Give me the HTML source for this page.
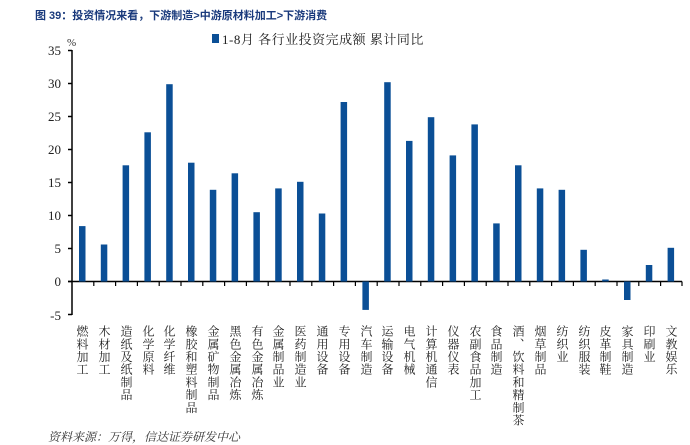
<!DOCTYPE html>
<html><head><meta charset="utf-8"><style>
body{margin:0;background:#fff;width:690px;height:444px;overflow:hidden;position:relative;font-family:"Liberation Serif","Noto Serif CJK SC",serif}
.t{position:absolute;left:35px;top:7px;font-family:"Liberation Sans","Noto Sans CJK SC",sans-serif;font-weight:bold;font-size:11px;color:#1a3a7c}
.src{position:absolute;left:48px;top:428px;font-size:12px;font-style:italic;color:#333;font-family:"Liberation Serif","Noto Serif CJK SC",serif}
.lab{position:absolute;top:325px;writing-mode:vertical-rl;font-size:12px;letter-spacing:0.7px;color:#222;transform:translateX(-50%);line-height:12px;font-family:"Liberation Serif","Noto Serif CJK SC",serif}
</style></head><body>
<div class="t">图 39：投资情况来看，下游制造&gt;中游原材料加工&gt;下游消费</div>
<svg width="690" height="444" style="position:absolute;left:0;top:0" font-family="'Liberation Serif', 'Noto Serif CJK SC', serif">
<text x="67" y="46" font-size="11" fill="#333">%</text>
<g font-size="13" fill="#222" text-anchor="end">
<text x="61" y="55">35</text><text x="61" y="88">30</text><text x="61" y="121">25</text><text x="61" y="154">20</text><text x="61" y="187">15</text><text x="61" y="220">10</text><text x="61" y="253">5</text><text x="61" y="286">0</text><text x="61" y="320">-5</text>
</g>
<g stroke="#000" stroke-width="1.5">
<line x1="72" y1="50" x2="72" y2="315"/>
<line x1="68" y1="50.5" x2="72" y2="50.5"/><line x1="68" y1="83.5" x2="72" y2="83.5"/><line x1="68" y1="116.5" x2="72" y2="116.5"/><line x1="68" y1="149.5" x2="72" y2="149.5"/><line x1="68" y1="182.5" x2="72" y2="182.5"/><line x1="68" y1="215.5" x2="72" y2="215.5"/><line x1="68" y1="248.5" x2="72" y2="248.5"/><line x1="68" y1="281.5" x2="72" y2="281.5"/><line x1="68" y1="314.5" x2="72" y2="314.5"/>
<line x1="68" y1="281.5" x2="682" y2="281.5"/>
</g>
<g fill="#0b4f96">
<rect x="79" y="226.1" width="6.5" height="55.4"/>
<rect x="100.8" y="244.5" width="6.5" height="37"/>
<rect x="122.6" y="165.3" width="6.5" height="116.2"/>
<rect x="144.4" y="132.3" width="6.5" height="149.2"/>
<rect x="166.2" y="84.2" width="6.5" height="197.3"/>
<rect x="188" y="162.7" width="6.5" height="118.8"/>
<rect x="209.8" y="189.8" width="6.5" height="91.7"/>
<rect x="231.6" y="173.3" width="6.5" height="108.2"/>
<rect x="253.4" y="212.2" width="6.5" height="69.3"/>
<rect x="275.2" y="188.4" width="6.5" height="93.1"/>
<rect x="297" y="181.8" width="6.5" height="99.7"/>
<rect x="318.8" y="213.5" width="6.5" height="68"/>
<rect x="340.6" y="102" width="6.5" height="179.5"/>
<rect x="362.4" y="281.5" width="6.5" height="28.4"/>
<rect x="384.2" y="82.2" width="6.5" height="199.3"/>
<rect x="406" y="140.9" width="6.5" height="140.6"/>
<rect x="427.8" y="117.2" width="6.5" height="164.3"/>
<rect x="449.6" y="155.4" width="6.5" height="126.1"/>
<rect x="471.4" y="124.4" width="6.5" height="157.1"/>
<rect x="493.2" y="223.4" width="6.5" height="58.1"/>
<rect x="515" y="165.3" width="6.5" height="116.2"/>
<rect x="536.8" y="188.4" width="6.5" height="93.1"/>
<rect x="558.6" y="189.8" width="6.5" height="91.7"/>
<rect x="580.4" y="249.8" width="6.5" height="31.7"/>
<rect x="602.2" y="279.5" width="6.5" height="2"/>
<rect x="624" y="281.5" width="6.5" height="18.5"/>
<rect x="645.8" y="265" width="6.5" height="16.5"/>
<rect x="667.6" y="247.8" width="6.5" height="33.7"/>
</g>
<g stroke="#000" stroke-width="1.2">
<line x1="93.8" y1="281.5" x2="93.8" y2="286"/><line x1="115.6" y1="281.5" x2="115.6" y2="286"/><line x1="137.4" y1="281.5" x2="137.4" y2="286"/><line x1="159.2" y1="281.5" x2="159.2" y2="286"/><line x1="181" y1="281.5" x2="181" y2="286"/><line x1="202.8" y1="281.5" x2="202.8" y2="286"/><line x1="224.6" y1="281.5" x2="224.6" y2="286"/><line x1="246.4" y1="281.5" x2="246.4" y2="286"/><line x1="268.2" y1="281.5" x2="268.2" y2="286"/><line x1="290" y1="281.5" x2="290" y2="286"/><line x1="311.8" y1="281.5" x2="311.8" y2="286"/><line x1="333.6" y1="281.5" x2="333.6" y2="286"/><line x1="355.4" y1="281.5" x2="355.4" y2="286"/><line x1="377.2" y1="281.5" x2="377.2" y2="286"/><line x1="399" y1="281.5" x2="399" y2="286"/><line x1="420.8" y1="281.5" x2="420.8" y2="286"/><line x1="442.6" y1="281.5" x2="442.6" y2="286"/><line x1="464.4" y1="281.5" x2="464.4" y2="286"/><line x1="486.2" y1="281.5" x2="486.2" y2="286"/><line x1="508" y1="281.5" x2="508" y2="286"/><line x1="529.8" y1="281.5" x2="529.8" y2="286"/><line x1="551.6" y1="281.5" x2="551.6" y2="286"/><line x1="573.4" y1="281.5" x2="573.4" y2="286"/><line x1="595.2" y1="281.5" x2="595.2" y2="286"/><line x1="617" y1="281.5" x2="617" y2="286"/><line x1="638.8" y1="281.5" x2="638.8" y2="286"/><line x1="660.6" y1="281.5" x2="660.6" y2="286"/><line x1="682" y1="281.5" x2="682" y2="286"/>
</g>
<rect x="212" y="34" width="7" height="9" fill="#0b4f96"/>
<text x="222" y="44" font-size="13" fill="#222" letter-spacing="0.5">1-8月 各行业投资完成额 累计同比</text>
</svg>
<div class="lab" style="left:82px">燃料加工</div>
<div class="lab" style="left:104px">木材加工</div>
<div class="lab" style="left:126px">造纸及纸制品</div>
<div class="lab" style="left:148px">化学原料</div>
<div class="lab" style="left:169px">化学纤维</div>
<div class="lab" style="left:191px">橡胶和塑料制品</div>
<div class="lab" style="left:213px">金属矿物制品</div>
<div class="lab" style="left:235px">黑色金属冶炼</div>
<div class="lab" style="left:257px">有色金属冶炼</div>
<div class="lab" style="left:278px">金属制品业</div>
<div class="lab" style="left:300px">医药制造业</div>
<div class="lab" style="left:322px">通用设备</div>
<div class="lab" style="left:344px">专用设备</div>
<div class="lab" style="left:366px">汽车制造</div>
<div class="lab" style="left:387px">运输设备</div>
<div class="lab" style="left:409px">电气机械</div>
<div class="lab" style="left:431px">计算机通信</div>
<div class="lab" style="left:453px">仪器仪表</div>
<div class="lab" style="left:475px">农副食品加工</div>
<div class="lab" style="left:496px">食品制造</div>
<div class="lab" style="left:518px">酒、饮料和精制茶</div>
<div class="lab" style="left:540px">烟草制品</div>
<div class="lab" style="left:562px">纺织业</div>
<div class="lab" style="left:584px">纺织服装</div>
<div class="lab" style="left:605px">皮革制鞋</div>
<div class="lab" style="left:627px">家具制造</div>
<div class="lab" style="left:649px">印刷业</div>
<div class="lab" style="left:671px">文教娱乐</div>
<div class="src">资料来源：万得，信达证券研发中心</div>
</body></html>
